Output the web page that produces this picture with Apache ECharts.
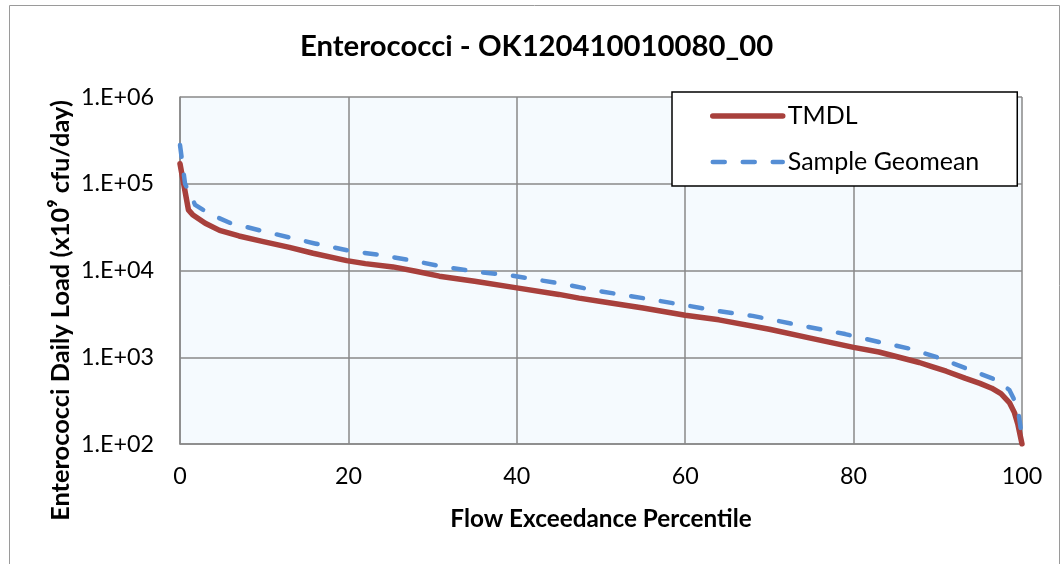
<!DOCTYPE html>
<html>
<head>
<meta charset="utf-8">
<script src="https://cdn.jsdelivr.net/npm/echarts@6/dist/echarts.min.js"></script>
<style>
html,body{margin:0;padding:0;background:#fff;}
#chart{width:1062px;height:564px;}
</style>
</head>
<body>
<div id="chart"></div>
<script>
const titleText = 'Enterococci - OK120410010080_00';
const xAxisName = 'Flow Exceedance Percentile';
const yAxisName = 'Enterococci Daily Load (x10\u2079 cfu/day)';
const seriesNames = ['TMDL', 'Sample Geomean'];

const tmdlX = [0, 1.0, 1.5, 3, 4.7, 7, 9.9, 13, 15.8, 19.8, 22, 25.3, 28, 30.8, 35, 40, 45, 47.4, 50, 55, 60, 64, 70, 75, 80, 83, 85.4, 87.8, 89.3, 91, 93.3, 95, 96.4, 97.5, 98.5, 99.1, 99.5, 100];
const tmdlY = [170000, 50000, 44000, 35000, 29000, 25000, 21500, 18500, 15800, 13000, 12000, 11000, 9800, 8600, 7500, 6300, 5300, 4800, 4400, 3700, 3050, 2700, 2100, 1650, 1300, 1150, 1000, 870, 780, 690, 570, 500, 440, 380, 300, 230, 170, 100];

const geoX = [0, 0.6, 1.8, 3.5, 5.9, 9.5, 13, 16, 20.2, 24, 27.6, 31, 34.8, 39.5, 45.5, 49.5, 55, 60.5, 64, 68, 73, 79, 83, 86.6, 89.8, 93.3, 96.9, 97.7, 98.5, 99.1, 99.6, 100];
const geoY = [280000, 100000, 57000, 45000, 35500, 29000, 24000, 20500, 16800, 15000, 13000, 11200, 9800, 8700, 7000, 5850, 4800, 3900, 3400, 3000, 2400, 1850, 1500, 1260, 1010, 750, 550, 480, 420, 320, 220, 120];

const font = 'Lato, "Liberation Sans", sans-serif';
const chart = echarts.init(document.getElementById('chart'));
chart.setOption({
  backgroundColor: '#ffffff',
  animation: false,
  graphic: [{
    type: 'rect', left: 7, top: 3, shape: {width: 1050, height: 620},
    style: {fill: 'none', stroke: '#9a9a9a', lineWidth: 1}, silent: true
  }],
  title: {
    text: titleText, left: 295, top: 27,
    textStyle: {fontFamily: font, fontSize: 29.3, fontWeight: 'bold', color: '#000'}
  },
  legend: {
    left: 672, top: 92,
    orient: 'vertical',
    backgroundColor: '#ffffff',
    borderColor: '#000000', borderWidth: 1.5,
    padding: [9, 38, 9, 38],
    itemGap: 16, itemWidth: 70, itemHeight: 14,
    itemStyle: {color: 'rgba(0,0,0,0)', borderWidth: 0, opacity: 0},
    lineStyle: {width: 'inherit'},
    textStyle: {fontFamily: font, fontSize: 25, color: '#000', lineHeight: 30},
    data: seriesNames
  },
  grid: {left: 180, right: 40, top: 97, bottom: 120, show: true, backgroundColor: '#f5fafe', borderWidth: 0},
  xAxis: {
    type: 'value', min: 0, max: 100, interval: 20,
    name: xAxisName, nameLocation: 'middle', nameGap: 63,
    nameTextStyle: {fontFamily: font, fontSize: 24.3, fontWeight: 'bold', color: '#000'},
    axisLine: {show: true, lineStyle: {color: '#888', width: 1.5}},
    axisTick: {show: false},
    axisLabel: {fontFamily: font, fontSize: 23.3, color: '#000', margin: 21},
    splitLine: {show: true, lineStyle: {color: '#888', width: 1.5}}
  },
  yAxis: {
    type: 'log', logBase: 10, min: 100, max: 1000000,
    name: yAxisName, nameLocation: 'middle', nameGap: 107, nameRotate: 90,
    nameMoveOverlap: false,
    nameTextStyle: {fontFamily: font, fontSize: 25.4, fontWeight: 'bold', color: '#000', padding: [0, 80, 0, 0]},
    axisLine: {show: true, lineStyle: {color: '#888', width: 1.5}},
    axisTick: {show: false},
    axisLabel: {
      fontFamily: font, fontSize: 23.3, color: '#000', margin: 26,
      formatter: function (v) { const e = Math.round(Math.log10(v)); return '1.E+' + (e < 10 ? '0' : '') + e; }
    },
    splitLine: {show: true, lineStyle: {color: '#888', width: 1.5}}
  },
  series: [{
    name: seriesNames[0], type: 'line', symbol: 'none', smooth: false,
    data: tmdlX.map((x, i) => [x, tmdlY[i]]),
    lineStyle: {color: '#a8403c', width: 5.5, cap: 'round', join: 'round'},
    itemStyle: {color: '#a8403c'},
    z: 3
  }, {
    name: seriesNames[1], type: 'line', symbol: 'none', smooth: false,
    data: geoX.map((x, i) => [x, geoY[i]]),
    lineStyle: {color: '#558ed5', width: 4.5, type: [12, 18], cap: 'round', join: 'round'},
    itemStyle: {color: '#558ed5'},
    z: 4
  }]
});
</script>
</body>
</html>
